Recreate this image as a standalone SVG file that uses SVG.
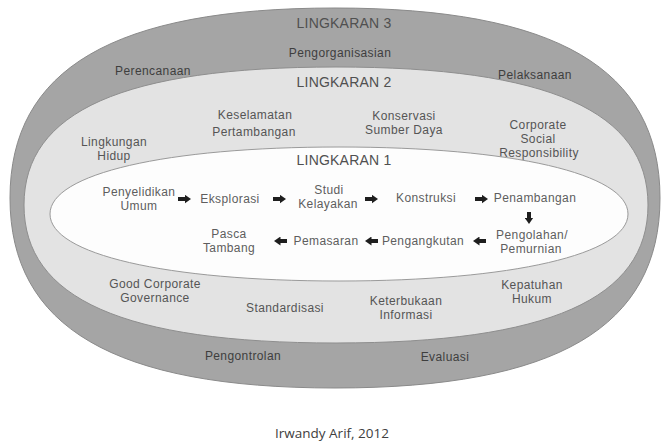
<svg xmlns="http://www.w3.org/2000/svg" width="662" height="443" viewBox="0 0 662 443">
<defs>
<style>
text{font-family:"Liberation Sans",Arial,sans-serif;font-size:12px;letter-spacing:0.4px;text-anchor:middle}
.dk{fill:#3e3e3e}
.md{fill:#555}
.in{fill:#5e5e5e}
.hd{font-size:14px;letter-spacing:0.2px;fill:#505050}
.cap{font-family:"Open Sans","Liberation Sans",sans-serif;font-size:13.5px;letter-spacing:0;fill:#404040}
.arr{stroke:#1e1e1e;stroke-width:4;fill:none}
</style>
<marker id="ah" markerUnits="userSpaceOnUse" markerWidth="7" markerHeight="9" refX="0.5" refY="4.5" orient="auto">
<path d="M0,0 L6.5,4.5 L0,9 Z" fill="#1e1e1e"/>
</marker>
</defs>
<rect width="662" height="443" fill="#fff"/>
<g id="lingkaran3">
<path d="M660,198 C660,327.2 556,388 335,388 C114,388 10,327.2 10,198 C10,68.8 114,8 335,8 C556,8 660,68.8 660,198 Z" fill="#a5a5a5" stroke="#8a8a8a" stroke-width="1"/>
<text class="hd" x="344" y="28">LINGKARAN 3</text>
<text class="dk" x="340" y="57">Pengorganisasian</text>
<text class="dk" x="153" y="75">Perencanaan</text>
<text class="dk" x="535" y="79">Pelaksanaan</text>
<text class="dk" x="243" y="360">Pengontrolan</text>
<text class="dk" x="445" y="361">Evaluasi</text>
</g>
<g id="lingkaran2">
<path d="M648,205 C648,298.8 548.2,343 336,343 C123.8,343 24,298.8 24,205 C24,111.2 123.8,67 336,67 C548.2,67 648,111.2 648,205 Z" fill="#e3e3e3" stroke="#8e8e8e" stroke-width="1"/>
<text class="hd" x="344" y="87">LINGKARAN 2</text>
<text class="md" x="255" y="119">Keselamatan</text>
<text class="md" x="254" y="136">Pertambangan</text>
<text class="md" x="404" y="120">Konservasi</text>
<text class="md" x="404" y="134">Sumber Daya</text>
<text class="md" x="114" y="146">Lingkungan</text>
<text class="md" x="114" y="160">Hidup</text>
<text class="md" x="538" y="129">Corporate</text>
<text class="md" x="538" y="143">Social</text>
<text class="md" x="539" y="157">Responsibility</text>
<text class="md" x="155" y="288">Good Corporate</text>
<text class="md" x="155" y="302">Governance</text>
<text class="md" x="285" y="312">Standardisasi</text>
<text class="md" x="406" y="305">Keterbukaan</text>
<text class="md" x="406" y="319">Informasi</text>
<text class="md" x="532" y="288.5">Kepatuhan</text>
<text class="md" x="532" y="302.5">Hukum</text>
</g>
<g id="lingkaran1">
<path d="M628,214 C628,254.2 512.4,281 339,281 C165.6,281 50,254.2 50,214 C50,173.8 165.6,147 339,147 C512.4,147 628,173.8 628,214 Z" fill="#fdfdfd" stroke="#9a9a9a" stroke-width="1"/>
<text class="hd" x="344" y="165">LINGKARAN 1</text>
</g>
<g id="penyelidikan-umum"><text class="in" x="139" y="196">Penyelidikan</text><text class="in" x="139" y="210">Umum</text></g>
<g id="eksplorasi"><text class="in" x="230" y="203">Eksplorasi</text></g>
<g id="studi-kelayakan"><text class="in" x="329" y="194">Studi</text><text class="in" x="328" y="208">Kelayakan</text></g>
<g id="konstruksi"><text class="in" x="426" y="202">Konstruksi</text></g>
<g id="penambangan"><text class="in" x="535" y="202">Penambangan</text></g>
<g id="pengolahan"><text class="in" x="532" y="239">Pengolahan/</text><text class="in" x="531" y="253">Pemurnian</text></g>
<g id="pengangkutan"><text class="in" x="423" y="245">Pengangkutan</text></g>
<g id="pemasaran"><text class="in" x="326" y="245">Pemasaran</text></g>
<g id="pasca-tambang"><text class="in" x="229" y="238">Pasca</text><text class="in" x="229" y="252">Tambang</text></g>
<g id="connectors">
<line class="arr" x1="178" y1="199" x2="185" y2="199" marker-end="url(#ah)"/>
<line class="arr" x1="273" y1="199" x2="280" y2="199" marker-end="url(#ah)"/>
<line class="arr" x1="365" y1="199" x2="372" y2="199" marker-end="url(#ah)"/>
<line class="arr" x1="475" y1="199" x2="482" y2="199" marker-end="url(#ah)"/>
<line class="arr" x1="529" y1="212" x2="529" y2="218" marker-end="url(#ah)"/>
<line class="arr" x1="486" y1="241" x2="479" y2="241" marker-end="url(#ah)"/>
<line class="arr" x1="378" y1="241" x2="371" y2="241" marker-end="url(#ah)"/>
<line class="arr" x1="287" y1="241" x2="280" y2="241" marker-end="url(#ah)"/>
</g>
<text class="cap" x="332" y="438">Irwandy Arif, 2012</text>
</svg>
